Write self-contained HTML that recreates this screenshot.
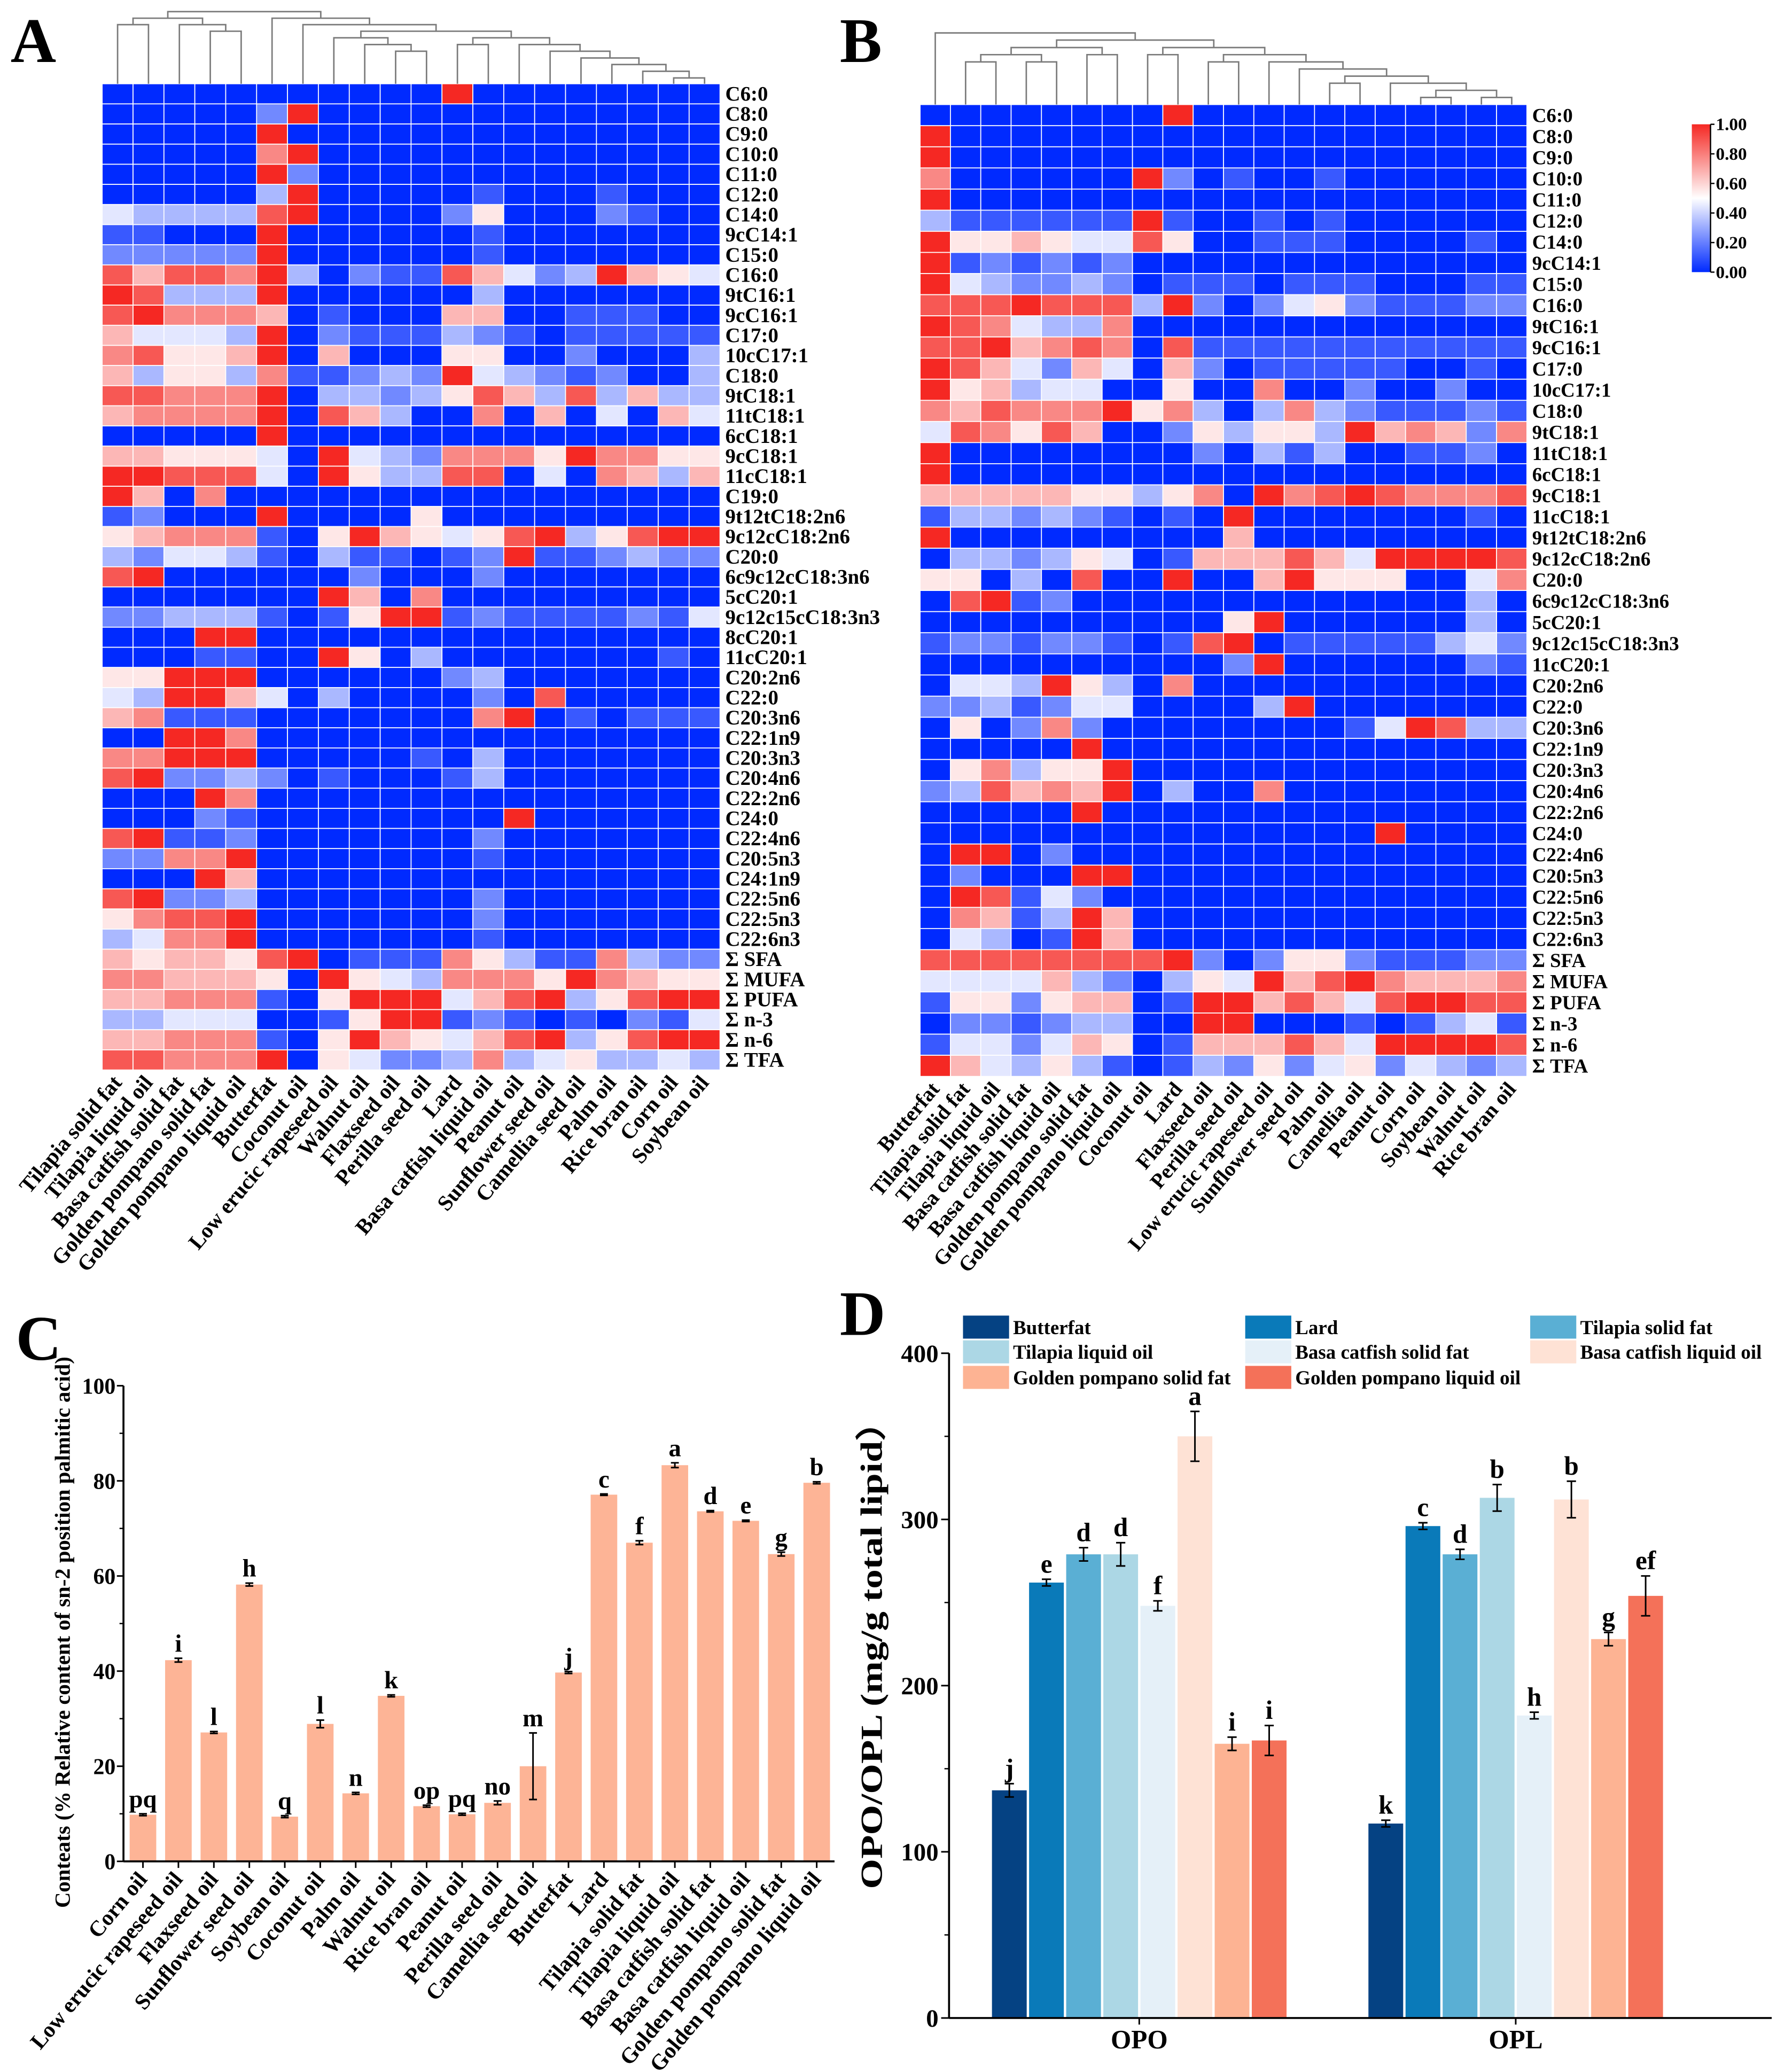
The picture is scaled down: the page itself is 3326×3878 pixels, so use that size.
<!DOCTYPE html>
<html><head><meta charset="utf-8"><title>Fatty acid heatmaps and palmitic acid / OPO-OPL bar charts</title>
<style>
html,body{margin:0;padding:0;background:#fff;}
svg{display:block;}
text{font-family:"Liberation Serif","Times New Roman",serif;font-weight:bold;fill:#000;}
</style></head>
<body>
<svg id="fig" xmlns="http://www.w3.org/2000/svg" width="3326" height="3878" viewBox="0 0 1350 1574">
<rect x="0" y="0" width="1350" height="1574" fill="#fff"/>
<text x="8" y="47" font-size="48">A</text>
<text x="638" y="47" font-size="48">B</text>
<text x="12" y="1033" font-size="48">C</text>
<text x="638" y="1014" font-size="48">D</text>
<g id="gA"></g>
<g id="gB"></g>
<g id="gCB"></g>
<g id="gC"></g>
<g id="gD"></g>
</svg>
<script>
// ===== Heatmap A data (digits 0..9 -> value d/9) =====
const rowsA = ["C6:0","C8:0","C9:0","C10:0","C11:0","C12:0","C14:0","9cC14:1","C15:0","C16:0","9tC16:1","9cC16:1","C17:0","10cC17:1","C18:0","9tC18:1","11tC18:1","6cC18:1","9cC18:1","11cC18:1","C19:0","9t12tC18:2n6","9c12cC18:2n6","C20:0","6c9c12cC18:3n6","5cC20:1","9c12c15cC18:3n3","8cC20:1","11cC20:1","C20:2n6","C22:0","C20:3n6","C22:1n9","C20:3n3","C20:4n6","C22:2n6","C24:0","C22:4n6","C20:5n3","C24:1n9","C22:5n6","C22:5n3","C22:6n3","Σ SFA","Σ MUFA","Σ PUFA","Σ n-3","Σ n-6","Σ TFA"];
const colsA = ["Tilapia solid fat","Tilapia liquid oil","Basa catfish solid fat","Golden pompano solid fat","Golden pompano liquid oil","Butterfat","Coconut oil","Low erucic rapeseed oil","Walnut oil","Flaxseed oil","Perilla seed oil","Lard","Basa catfish liquid oil","Peanut oil","Sunflower seed oil","Camellia seed oil","Palm oil","Rice bran oil","Corn oil","Soybean oil"];
const valsA = [
"00000000000900000000","00000290000000000000","00000900000000000000","00000790000000000000","00000920000000000000",
"00000390000010001000","43333890000250002100","11000900000010000000","22222900000010000000","86887930211864239654",
"98333900000030000000","89777601000660011100","64443902111321011111","78556906000550020003","63553711232943212003",
"88777903323586383633","67777908630070604064","00000900000000000000","66555409432777597755","99888409533880407636",
"96070000000000000000","12000900005000000000","56777105965458935899","32443103110129112322","89000000200020000000",
"00000009607000000000","22333101599121111214","00099000000000000000","00011009503000000010","55999000000230000000",
"43996403000020800000","67111000000079010111","00997000000000000000","77999000001030000000","89223201000130000000",
"00097000000000000000","00021000000009000000","89112000000020000000","22779000000010000000","00096000000000000000",
"89223000000020000000","57889000000020000000","34779000000010000000","65665890111753117322","77666509543777597655",
"66777105999468935899","33444001599121010214","66777105965468935899","88777905422373453343"];
// ===== Heatmap B data =====
const rowsB = ["C6:0","C8:0","C9:0","C10:0","C11:0","C12:0","C14:0","9cC14:1","C15:0","C16:0","9tC16:1","9cC16:1","C17:0","10cC17:1","C18:0","9tC18:1","11tC18:1","6cC18:1","9cC18:1","11cC18:1","9t12tC18:2n6","9c12cC18:2n6","C20:0","6c9c12cC18:3n6","5cC20:1","9c12c15cC18:3n3","11cC20:1","C20:2n6","C22:0","C20:3n6","C22:1n9","C20:3n3","C20:4n6","C22:2n6","C24:0","C22:4n6","C20:5n3","C22:5n6","C22:5n3","C22:6n3","Σ SFA","Σ MUFA","Σ PUFA","Σ n-3","Σ n-6","Σ TFA"];
const colsB = ["Butterfat","Tilapia solid fat","Tilapia liquid oil","Basa catfish solid fat","Basa catfish liquid oil","Golden pompano solid fat","Golden pompano liquid oil","Coconut oil","Lard","Flaxseed oil","Perilla seed oil","Low erucic rapeseed oil","Sunflower seed oil","Palm oil","Camellia oil","Peanut oil","Corn oil","Soybean oil","Walnut oil","Rice bran oil"];
const valsB = [
"00000000900000000000","90000000000000000000","90000000000000000000","70000009201001000000","90000000000000000000",
"31111119100101000000","95565448500111000010","91212120000000000000","94322320111011100011","88898883920245211122",
"98743370000000000000","88967870811111111111","98642640620111110010","95634400500700200200","76877795730373211121",
"48758600253553967627","90000000020313001120","90000000000000000000","66666553570978987778","13323210109000000010",
"90000000006000000000","03323540166686499998","55030800900695550047","08912000000000000030","00000000005900000030",
"12212210189011111342","00000000002900000021","04439530700000000000","22312440000390000000","05027200000000149833",
"00000900000000000000","05735590000000000000","23867690300700000000","00000900000000000000","00000000000000090000",
"09902000000000000000","02000990000000000000","09814200000000000000","07613960000000000000","04301960000000000000",
"88888888920255211122","44446320354968976667","15525660199686489988","02212330099000101341","14424650166686499998",
"96435310132524524323"];
// dendrogram merge heights (display units) - [left, right, height]
const treeA = [[[0,1,18.7],[2,[3,4,23.7],18.7],13.8],[5,[6,[[7,[8,[9,10,38.9],33.8],28.7],[[11,12,33.8],[13,[14,[15,[16,[17,[18,19,59.2],54.1],49],44],38.9],33.8],28.7],23.7],18.7],13.8],8.8];
const treeB = [0,[[[[1,2,47],[3,4,47],41.5],[5,6,41.5],36.1],[[7,8,41.5],[[9,10,47],[11,[12,[[13,14,63.2],[15,[[16,17,74],[18,19,74],68.6],63.2],57.8],52.4],47],41.5],36.1],30.4],25];
const colorTicks = [0,0.2,0.4,0.6,0.8,1.0];

// ===== Chart C data =====
const catsC = ["Corn oil","Low erucic rapeseed oil","Flaxseed oil","Sunflower seed oil","Soybean oil","Coconut oil","Palm oil","Walnut oil","Rice bran oil","Peanut oil","Perilla seed oil","Camellia seed oil","Butterfat","Lard","Tilapia solid fat","Tilapia liquid oil","Basa catfish solid fat","Basa catfish liquid oil","Golden pompano solid fat","Golden pompano liquid oil"];
const valsC = [9.8,42.3,27.1,58.2,9.4,28.9,14.3,34.8,11.6,9.9,12.3,20.0,39.7,77.1,67.0,83.3,73.6,71.6,64.6,79.6];
const errC = [0.2,0.4,0.2,0.3,0.2,0.8,0.2,0.2,0.2,0.2,0.4,7.0,0.2,0.1,0.4,0.5,0.1,0.1,0.4,0.2];
const lettersC = ["pq","i","l","h","q","l","n","k","op","pq","no","m","j","c","f","a","d","e","g","b"];
const ticksC = [0,20,40,60,80,100];

// ===== Chart D data =====
const groupsD = ["OPO","OPL"];
const seriesD = ["Butterfat","Lard","Tilapia solid fat","Tilapia liquid oil","Basa catfish solid fat","Basa catfish liquid oil","Golden pompano solid fat","Golden pompano liquid oil"];
const colorsD = ["#054283","#0a7ab9","#5aafd4","#acd7e5","#e5f0f8","#fee2d5","#fdb393","#f47159"];
const opoVals = [137,262,279,279,248,350,165,167];
const oplVals = [117,296,279,313,182,312,228,254];
const opoErr = [4,2,4,7,3,15,4,9];
const oplErr = [2,2,3,8,2,11,4,12];
const opoLetters = ["j","e","d","d","f","a","i","i"];
const oplLetters = ["k","c","d","b","h","b","g","ef"];
const ticksD = [0,100,200,300,400];

const NS = "http://www.w3.org/2000/svg";
function mk(parent, tag, attrs, txt){
  const e = document.createElementNS(NS, tag);
  for (const k in attrs) e.setAttribute(k, attrs[k]);
  if (txt !== undefined) e.textContent = txt;
  parent.appendChild(e);
  return e;
}
function cmap(v){
  const b=[0,42,255], w=[255,255,255], r=[245,40,35];
  let c;
  if (v < 0.5){ const t=v/0.5; c=b.map((x,i)=>x+(w[i]-x)*t); }
  else { const t=(v-0.5)/0.5; c=w.map((x,i)=>x+(r[i]-x)*t); }
  return "rgb("+c.map(Math.round).join(",")+")";
}

function heatmap(g, rows, cols, vals, tree, x0, y0, cw, rh, labAngle, rowFont, colFont){
  for (let i=0;i<rows.length;i++){
    for (let j=0;j<cols.length;j++){
      const v = parseInt(vals[i][j],10)/9;
      const r = mk(g,"rect",{x:x0+j*cw,y:y0+i*rh,width:cw,height:rh,fill:cmap(v),stroke:"#fff","stroke-width":0.7});
      
      
    }
    const t = mk(g,"text",{x:x0+cols.length*cw+4,y:y0+(i+0.5)*rh+5.2,"font-size":rowFont}, rows[i]);
    
    
  }
  const yb = y0+rows.length*rh+6;
  for (let j=0;j<cols.length;j++){
    const cx = x0+(j+0.5)*cw+4;
    const t = mk(g,"text",{x:cx,y:yb+4,"font-size":colFont,"text-anchor":"end",transform:"rotate("+labAngle+" "+cx+" "+(yb+4)+")"}, cols[j]);
    
    
  }
  const dg = mk(g,"g",{stroke:"#7a7a7a","stroke-width":1.1,fill:"none"});
  
  
  function draw(n){
    if (typeof n === "number") return {x:x0+(n+0.5)*cw, y:y0};
    const a = draw(n[0]), b = draw(n[1]), h = n[2];
    const p = mk(dg,"path",{d:"M"+a.x+" "+a.y+"V"+h+"H"+b.x+"V"+b.y});
    
    
    return {x:(a.x+b.x)/2, y:h};
  }
  draw(tree);
}
heatmap(document.getElementById("gA"), rowsA, colsA, valsA, treeA, 77.6, 63.6, 23.47, 15.29, -50, 15.8, 16.5);
heatmap(document.getElementById("gB"), rowsB, colsB, valsB, treeB, 699, 79.4, 23.05, 16.05, -50, 15, 16);

(function(){
  const g = document.getElementById("gCB");
  const defs = mk(g,"defs",{});
  const lg = mk(defs,"linearGradient",{id:"cbgrad",x1:0,y1:1,x2:0,y2:0});
  for (let k=0;k<=10;k++){ mk(lg,"stop",{offset:k/10,"stop-color":cmap(k/10)}); }
  const bx=1285.3, by=94.4, bw=14.2, bh=112.3;
  const r = mk(g,"rect",{x:bx,y:by,width:bw,height:bh,fill:"url(#cbgrad)"});
  
  
  mk(g,"line",{x1:bx+bw,y1:by,x2:bx+bw,y2:by+bh,stroke:"#000","stroke-width":1});
  colorTicks.forEach(v=>{
    const y = by+bh-v*bh;
    mk(g,"line",{x1:bx+bw,y1:y,x2:bx+bw+3,y2:y,stroke:"#000","stroke-width":1});
    const t = mk(g,"text",{x:bx+bw+4,y:y+4.5,"font-size":13.5}, v.toFixed(2));
    
    
  });
})();

// ===== Chart C =====
(function(){
  const g = document.getElementById("gC");
  const ax = 93.8, y0 = 1414, y100 = 1052.7, x0 = 98.5, pitch = 26.94, bw = 20.2;
  const ys = v => y0 - (v/100)*(y0-y100);
  const xs = i => x0 + i*pitch;
  valsC.forEach((v,i)=>{
    const r = mk(g,"rect",{x:xs(i),y:ys(v),width:bw,height:y0-ys(v),fill:"#fdb496"});
    
    
    const cx = xs(i)+bw/2, e = Math.max(errC[i],0.15);
    const eb = mk(g,"path",{d:"M"+(cx-3)+" "+ys(v+e)+"H"+(cx+3)+"M"+cx+" "+ys(v+e)+"V"+ys(v-e)+"M"+(cx-3)+" "+ys(v-e)+"H"+(cx+3),stroke:"#000","stroke-width":1.2,fill:"none"});
    
    
    const t = mk(g,"text",{x:cx,y:ys(v+e)-5,"font-size":19,"text-anchor":"middle"}, lettersC[i]);
    
    
    mk(g,"line",{x1:cx,y1:y0,x2:cx,y2:y0+5,stroke:"#000","stroke-width":1.2});
    const lx = cx+4, ly = y0+14;
    const lab = mk(g,"text",{x:lx,y:ly,"font-size":16.8,"text-anchor":"end",transform:"rotate(-50 "+lx+" "+ly+")"}, catsC[i]);
    
    
  });
  mk(g,"line",{x1:ax,y1:y100,x2:ax,y2:y0,stroke:"#000","stroke-width":1.5});
  mk(g,"line",{x1:ax,y1:y0,x2:634,y2:y0,stroke:"#000","stroke-width":1.5});
  for (let v=10; v<100; v+=20) mk(g,"line",{x1:ax-3,y1:ys(v),x2:ax,y2:ys(v),stroke:"#000","stroke-width":1});
  ticksC.forEach(v=>{
    mk(g,"line",{x1:ax-5,y1:ys(v),x2:ax,y2:ys(v),stroke:"#000","stroke-width":1.2});
    const t = mk(g,"text",{x:ax-6,y:ys(v)+6,"font-size":17,"text-anchor":"end"}, String(v));
    
    
  });
  const tt = mk(g,"text",{x:53,y:1240,"font-size":16.5,"text-anchor":"middle",transform:"rotate(-90 53 1240)"}, "Conteats (% Relative content of sn-2 position palmitic acid)");
  
  
})();

// ===== Chart D =====
(function(){
  const g = document.getElementById("gD");
  const ax = 721, y0 = 1533, y400 = 1028, bw = 26.4, pitch = 28.2;
  const groupStart = [753.6, 1039.6];
  const ys = v => y0 - (v/400)*(y0-y400);
  const allVals = [opoVals, oplVals], allErr = [opoErr, oplErr], allLet = [opoLetters, oplLetters];
  groupsD.forEach((gname,gi)=>{
    allVals[gi].forEach((v,i)=>{
      const x = groupStart[gi] + i*pitch;
      const r = mk(g,"rect",{x:x,y:ys(v),width:bw,height:y0-ys(v),fill:colorsD[i]});
      
      
      const cx = x+bw/2, e = allErr[gi][i];
      const eb = mk(g,"path",{d:"M"+(cx-3.5)+" "+ys(v+e)+"H"+(cx+3.5)+"M"+cx+" "+ys(v+e)+"V"+ys(v-e)+"M"+(cx-3.5)+" "+ys(v-e)+"H"+(cx+3.5),stroke:"#000","stroke-width":1.2,fill:"none"});
      
      
      const t = mk(g,"text",{x:cx,y:ys(v+e)-5,"font-size":20,"text-anchor":"middle"}, allLet[gi][i]);
      
      
    });
    const gc = groupStart[gi] + 4*pitch - (pitch-bw)/2;
    const gl = mk(g,"text",{x:gc,y:1556,"font-size":20,"text-anchor":"middle"}, gname);
    
    
    mk(g,"line",{x1:gc,y1:y0,x2:gc,y2:y0+5,stroke:"#000","stroke-width":1.2});
  });
  mk(g,"line",{x1:ax,y1:y400,x2:ax,y2:y0,stroke:"#000","stroke-width":1.5});
  mk(g,"line",{x1:ax,y1:y0,x2:1346,y2:y0,stroke:"#000","stroke-width":1.5});
  for (let v=50; v<400; v+=100) mk(g,"line",{x1:ax-3.5,y1:ys(v),x2:ax,y2:ys(v),stroke:"#000","stroke-width":1});
  ticksD.forEach(v=>{
    mk(g,"line",{x1:ax-6,y1:ys(v),x2:ax,y2:ys(v),stroke:"#000","stroke-width":1.2});
    const t = mk(g,"text",{x:ax-8,y:ys(v)+6.5,"font-size":19,"text-anchor":"end"}, String(v));
    
    
  });
  const tt = mk(g,"text",{x:670,y:1250,"font-size":23,"text-anchor":"middle",textLength:370,lengthAdjust:"spacingAndGlyphs",transform:"rotate(-90 670 1250)"}, "OPO/OPL (mg/g total lipid）");
  
  
  const lx = [731.6, 946, 1162.5], ly = [999.4, 1018.2, 1037.6];
  seriesD.forEach((s,i)=>{
    const c = i%3, r = Math.floor(i/3);
    const sw = mk(g,"rect",{x:lx[c],y:ly[r],width:35,height:17.5,fill:colorsD[i]});
    
    
    const t = mk(g,"text",{x:lx[c]+38,y:ly[r]+14,"font-size":15}, s);
    
    
  });
})();
</script>
</body></html>
